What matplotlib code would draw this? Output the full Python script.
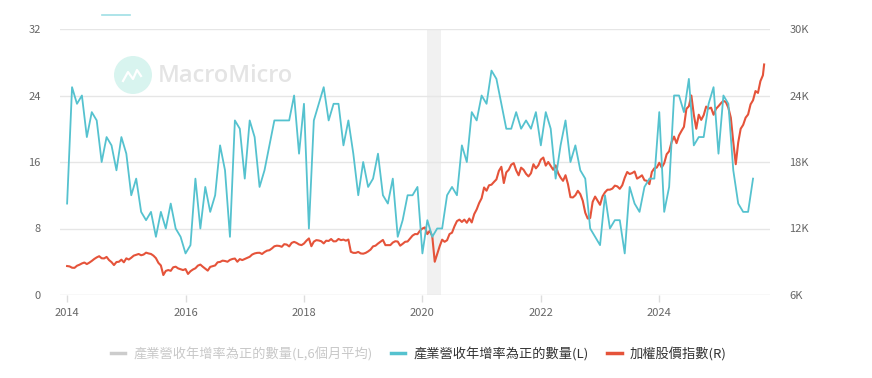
import numpy as np
import matplotlib
matplotlib.use("Agg")
import matplotlib.pyplot as plt
from matplotlib.lines import Line2D
from matplotlib.patches import Ellipse

plt.rcParams['font.family'] = ['Noto Sans CJK TC', 'DejaVu Sans']

# ---- data ----
# 產業營收年增率為正的數量 (monthly, Jan 2014 - Aug 2025)
count_2014 = [11, 25, 23, 24, 19, 22, 21, 16, 19, 18, 15, 19]
count_2015 = [17, 12, 14, 10, 9, 10, 7, 10, 8, 11, 8, 7]
count_2016 = [5, 6, 14, 8, 13, 10, 12, 18, 15, 7, 21, 20]
count_2017 = [14, 21, 19, 13, 15, 18, 21, 21, 21, 21, 24, 17]
count_2018 = [23, 8, 21, 23, 25, 21, 23, 23, 18, 21, 17, 12]
count_2019 = [16, 13, 14, 17, 12, 11, 14, 7, 9, 12, 12, 13]
count_2020 = [5, 9, 7, 8, 8, 12, 13, 12, 18, 16, 22, 21]
count_2021 = [24, 23, 27, 26, 23, 20, 20, 22, 20, 21, 20, 22]
count_2022 = [18, 22, 20, 14, 18, 21, 16, 18, 15, 14, 8, 7]
count_2023 = [6, 12, 8, 9, 9, 5, 13, 11, 10, 13, 14, 14]
count_2024 = [22, 10, 13, 24, 24, 22, 26, 18, 19, 19, 23, 25]
count_2025 = [17, 24, 23, 15, 11, 10, 10, 14]
count_all = (count_2014 + count_2015 + count_2016 + count_2017 + count_2018 +
             count_2019 + count_2020 + count_2021 + count_2022 + count_2023 +
             count_2024 + count_2025)

# 加權股價指數 (mid-month, month-end pairs, Jan 2014 - Sep 2025)
taiex_start = 8612
taiex_2014 = [8580, 8462, 8450, 8639, 8730, 8849, 8930, 8791, 8920, 9075, 9250, 9393,
              9500, 9315, 9300, 9436, 9150, 8966, 8700, 8974, 9000, 9187, 8950, 9307]
taiex_2015 = [9200, 9361, 9550, 9622, 9700, 9586, 9650, 9820, 9750, 9701, 9550, 9323,
              8900, 8665, 7800, 8174, 8250, 8181, 8500, 8554, 8400, 8320, 8250, 8338]
taiex_2016 = [7900, 8145, 8300, 8411, 8650, 8744, 8550, 8377, 8200, 8536, 8600, 8667,
              8950, 8984, 9100, 9068, 9000, 9166, 9250, 9290, 9000, 9240, 9150, 9254]
taiex_2017 = [9350, 9448, 9650, 9750, 9800, 9811, 9700, 9872, 10000, 10041, 10200, 10395,
              10450, 10427, 10350, 10585, 10550, 10384, 10700, 10794, 10700, 10560, 10500, 10643]
taiex_2018 = [10900, 11104, 10400, 10815, 10950, 10919, 10850, 10657, 10900, 10875, 11050, 10837,
              10850, 11057, 10950, 10998, 10900, 11006, 9900, 9802, 9800, 9888, 9750, 9727]
taiex_2019 = [9800, 9932, 10100, 10389, 10450, 10641, 10800, 10967, 10500, 10498, 10500, 10731,
              10850, 10824, 10450, 10618, 10800, 10829, 11100, 11358, 11500, 11490, 11800, 11997]
taiex_2020 = [12100, 11495, 11800, 11292, 9000, 9708, 10400, 10992, 10800, 10943, 11500, 11621,
              12200, 12665, 12800, 12592, 12800, 12516, 12900, 12546, 13300, 13723, 14300, 14732]
taiex_2021 = [15700, 15410, 15900, 15953, 16200, 16431, 17200, 17567, 16100, 17068, 17300, 17755,
              17900, 17247, 16800, 17490, 17300, 16935, 16700, 16987, 17800, 17428, 17700, 18218]
taiex_2022 = [18400, 17674, 18000, 17652, 17300, 17693, 17000, 16593, 16300, 16807, 16000, 14826,
              14800, 15000, 15400, 15095, 14500, 13425, 12900, 12949, 14400, 14880, 14500, 14138]
taiex_2023 = [14900, 15265, 15500, 15503, 15600, 15868, 15800, 15579, 15900, 16579, 17100, 16916,
              17000, 17145, 16500, 16634, 16800, 16353, 16300, 16001, 17100, 17433, 17500, 17931]
taiex_2024 = [17500, 17890, 18700, 18966, 19800, 20293, 19700, 20397, 20800, 21174, 22800, 23032,
              24000, 22269, 21000, 22268, 21800, 22225, 23000, 22820, 22900, 22263, 22800, 23036]
taiex_2025 = [23300, 23526, 23400, 22897, 22000, 19802, 17800, 19765, 21000, 21348, 22000, 22288,
              23200, 23570, 24400, 24233, 25300, 25821]
taiex_last = 26800
taiex_all = (taiex_2014 + taiex_2015 + taiex_2016 + taiex_2017 + taiex_2018 + taiex_2019 +
             taiex_2020 + taiex_2021 + taiex_2022 + taiex_2023 + taiex_2024 + taiex_2025)

recession = (2020.08, 2020.32)
left_ticks = [0, 8, 16, 24, 32]
right_ticks = [6000, 12000, 18000, 24000, 30000]
right_labels = ['6K', '12K', '18K', '24K', '30K']
x_ticks = [2014, 2016, 2018, 2020, 2022, 2024]

label_avg = '產業營收年增率為正的數量(L,6個月平均)'
label_count = '產業營收年增率為正的數量(L)'
label_taiex = '加權股價指數(R)'

# ---- positions ----
count_x = 2014 + np.arange(len(count_all)) / 12.0
n_half = len(taiex_all)
taiex_x = np.concatenate([[2014.0],
                          2014 + (np.arange(n_half) // 2 + 0.5 * (np.arange(n_half) % 2 + 1)) / 12.0,
                          [2025 + 9.25 / 12]])
taiex_y = np.concatenate([[taiex_start], taiex_all, [taiex_last]])

BLUE = '#55c2cf'
RED = '#e5533a'
GRID = '#e6e6e6'
TXT = '#666666'

fig = plt.figure(figsize=(8.72, 3.78), dpi=100)
ax = fig.add_axes([60 / 872, 1 - 295 / 378, 710 / 872, 266 / 378])
ax2 = ax.twinx()

ax.set_xlim(2013.88, 2025.87)
ax.set_ylim(0, 32)
ax2.set_ylim(6000, 30000)

# background elements go on the lower (right) axes
ax2.axvspan(recession[0], recession[1], color='#f1f1f1', zorder=0, lw=0)
for t in right_ticks:
    ax2.axhline(t, color=GRID if t > 6000 else '#dddddd', lw=1.0, zorder=0.5)

ax2.plot(taiex_x, taiex_y, color=RED, lw=1.5, zorder=2)
ax.plot(count_x, count_all, color=BLUE, lw=1.3, zorder=3)
ax.set_zorder(ax2.get_zorder() + 1)
ax.patch.set_visible(False)

for a in (ax, ax2):
    for s in a.spines.values():
        s.set_visible(False)

ax.set_yticks(left_ticks)
ax.set_yticklabels([str(t) for t in left_ticks])
ax2.set_yticks(right_ticks)
ax2.set_yticklabels(right_labels)
ax.set_xticks(x_ticks)
ax.set_xticklabels([str(t) for t in x_ticks])
ax.tick_params(axis='y', length=0, pad=14, labelsize=8, labelcolor=TXT)
ax2.tick_params(axis='y', length=0, pad=14, labelsize=8, labelcolor=TXT)
ax.tick_params(axis='x', length=5, width=1, color='#dddddd', pad=4, labelsize=8, labelcolor=TXT)

# watermark
fig.patches.append(Ellipse((133 / 872, 1 - 75 / 378), 38 / 872, 38 / 378,
                           transform=fig.transFigure, facecolor='#d8f4ef',
                           edgecolor='none', zorder=0))
fig.add_artist(Line2D([123 / 872, 128 / 872, 133 / 872, 137 / 872, 141 / 872],
                      [1 - 81 / 378, 1 - 72 / 378, 1 - 79 / 378, 1 - 70 / 378, 1 - 76 / 378],
                      color='white', lw=1.6, transform=fig.transFigure))
fig.text(158 / 872, 1 - 76 / 378, 'MacroMicro', fontsize=17, color='#e4e4e4',
         family=['Open Sans', 'DejaVu Sans'], fontweight='semibold', va='center', ha='left')

# small stray line at top
fig.add_artist(Line2D([102 / 872, 130 / 872], [1 - 15 / 378, 1 - 15 / 378],
                      color='#9fdfe5', lw=1.2, transform=fig.transFigure))

handles = [Line2D([], [], color='#cccccc', lw=2.5),
           Line2D([], [], color=BLUE, lw=2.5),
           Line2D([], [], color=RED, lw=2.5)]
leg = fig.legend(handles, [label_avg, label_count, label_taiex], loc='center',
                 bbox_to_anchor=(0.48, 1 - 354 / 378), ncol=3, frameon=False,
                 fontsize=9.5, handlelength=1.1, handletextpad=0.6, columnspacing=1.4)
cols = ['#c8c8c8', '#333333', '#333333']
for txt, c in zip(leg.get_texts(), cols):
    txt.set_color(c)

fig.savefig('out.png', dpi=100)
